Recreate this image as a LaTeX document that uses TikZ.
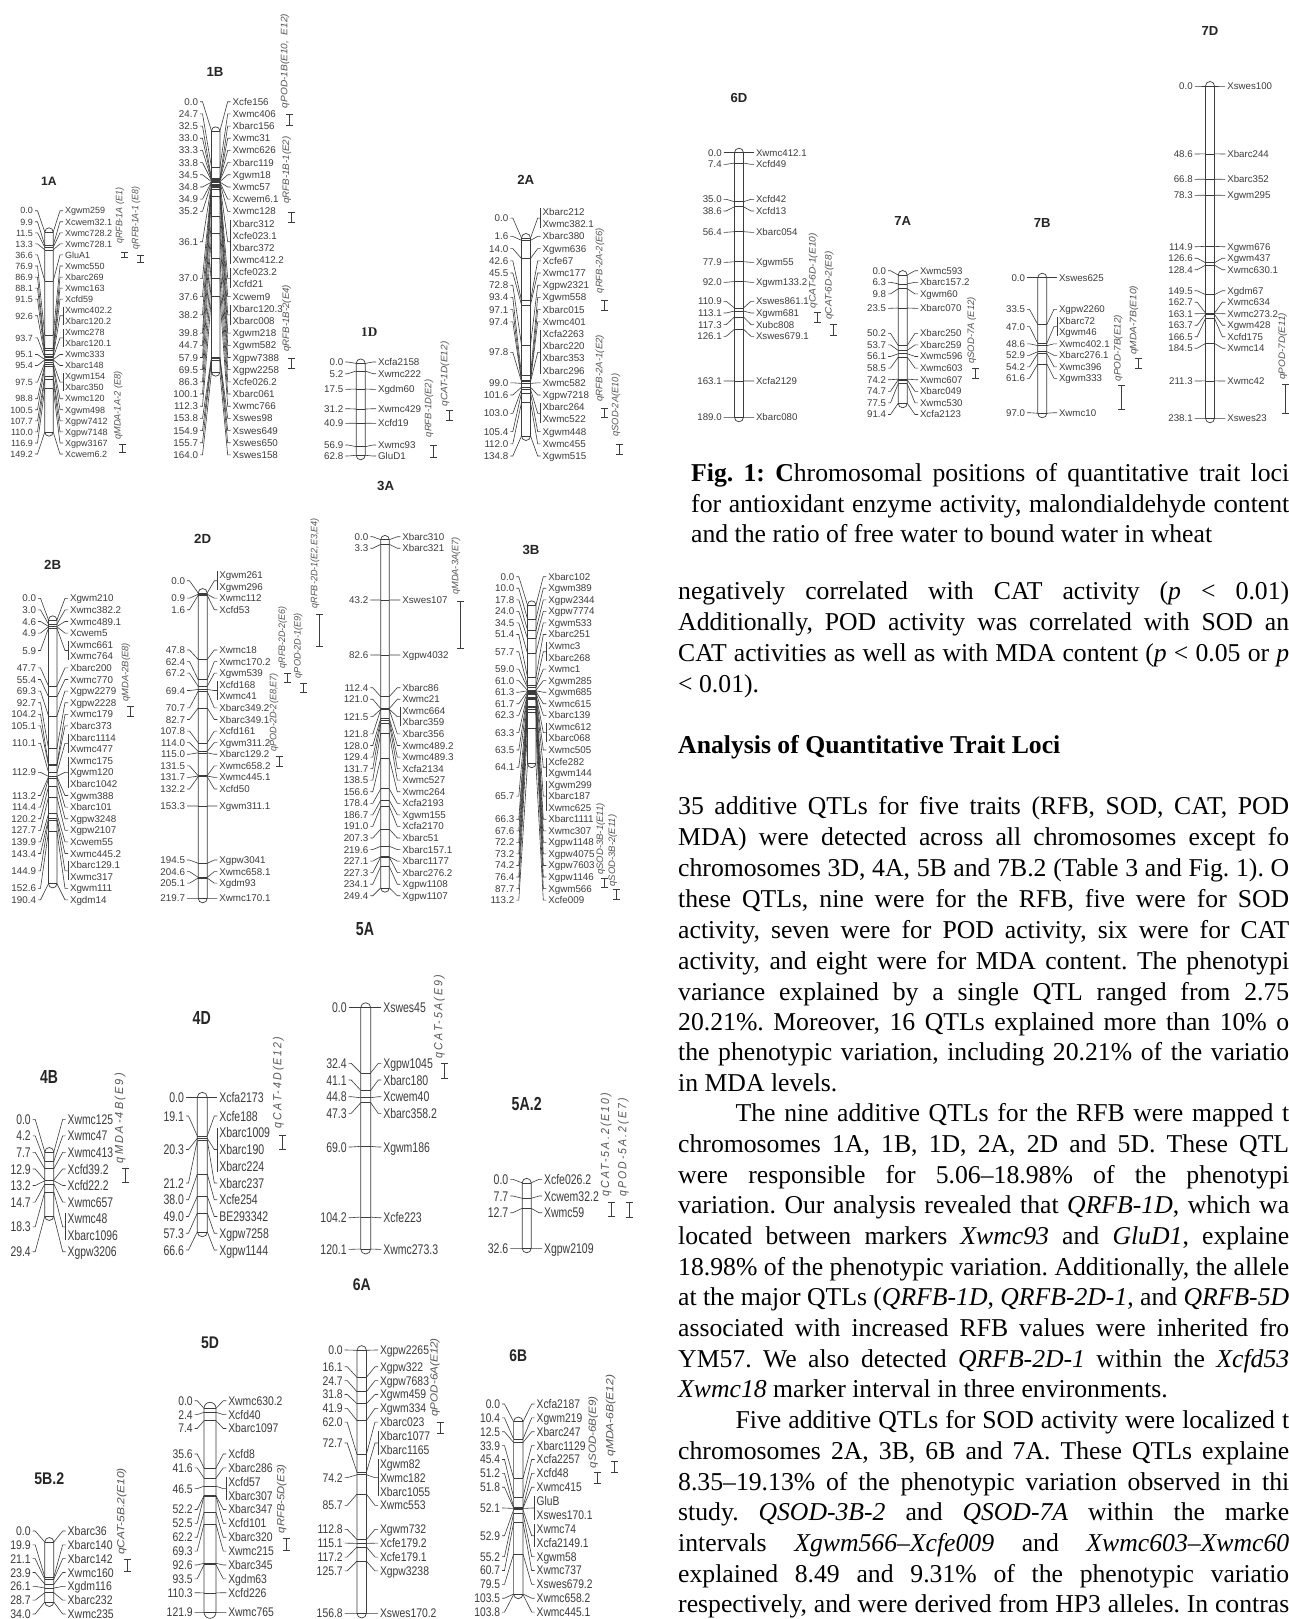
\documentclass[tikz,border=0pt]{standalone}
\usepackage{graphicx}
\usepackage{fontspec}
\setmainfont{Liberation Serif}
\newfontfamily\mapfont{Liberation Sans}
\newfontfamily\qtlwide[LetterSpace=20]{Liberation Sans}
\definecolor{mapgray}{HTML}{3C3C3C}
\definecolor{qtlgray}{HTML}{555555}

\newcount\markno
\newcount\rowcnt
\newcount\namecnt
\newcount\qtlno
\newcount\bodyno
\newcount\chrno

\tikzset{
    chrom-line/.style={draw=mapgray, line width=.7pt},
    band-line/.style={draw=mapgray, line width=.6pt},
    link-line/.style={draw=mapgray, line width=.6pt},
    map-label/.style={inner sep=0pt, outer xsep=2pt, text=mapgray},
    chrom-title/.style={inner sep=0pt, text=black!85},
    qtl-bar/.style={draw=mapgray, line width=.9pt, {Bar[width=7pt]}-{Bar[width=7pt]}},
    qtl-label/.style={inner sep=0pt, text=qtlgray, rotate=90, anchor=west},
    body-line/.style={inner sep=0pt, anchor=base west, font=\fontsize{25.7}{30}\selectfont\frenchspacing}
}

\newcommand{\maplab}[1]{\scalebox{\labXs}[1]{\mapfont\fontsize{\labFs}{\labFs}\selectfont\raisebox{0pt}[.72em][0pt]{#1}}}

% font size, x stretch, row step, left text edge, right text edge
\newcommand{\setlabels}[5]{%
    \def\labFs{#1}\def\labXs{#2}\def\labStep{#3}\def\labLx{#4}\def\labRx{#5}%
}

% title, title x, title y, centre x, half width, y at 0, y at end, length
\newcommand{\chrom}[8]{%
    \global\advance\chrno by 1
    \def\chrCx{#4}\def\chrHw{#5}\def\chrY{#6}%
    \pgfmathsetmacro{\chrS}{(#7-#6)/#8}%
    \pgfmathsetmacro{\titleFs}{1.35*\labFs}%
    \node[chrom-title] (title-\the\chrno) at (#2,#3)
        {\scalebox{\labXs}[1]{\mapfont\bfseries\fontsize{\titleFs}{\titleFs}\selectfont #1}};
    \draw[chrom-line, rounded corners=#5pt] (#4-#5,#6-#5) rectangle (#4+#5,#7+#5);
}

\newcommand{\markers}[2]{%
    \global\rowcnt=0
    \foreach \cm/\names in {#2}{%
        \global\advance\markno by 1
        \global\namecnt=0
        \foreach \nm in \names {\global\advance\namecnt by 1}
        \pgfmathsetmacro{\bandy}{\chrY+\cm*\chrS}
        \pgfmathsetmacro{\midy}{#1+\labStep*(\the\rowcnt+(\the\namecnt-1)/2)}
        \coordinate (m\the\markno-bl) at (\chrCx-\chrHw,\bandy);
        \coordinate (m\the\markno-br) at (\chrCx+\chrHw,\bandy);
        \coordinate (m\the\markno-join) at (\labRx-2,\midy);
        \draw[band-line] (m\the\markno-bl) -- (m\the\markno-br);
        \node[map-label, anchor=east] (m\the\markno-pos) at (\labLx+2,\midy) {\maplab{\cm}};
        \foreach \nm [count=\k] in \names {
            \pgfmathsetmacro{\rowy}{#1+\labStep*\the\rowcnt}
            \node[map-label, anchor=west] (m\the\markno-\k) at (\labRx-2,\rowy) {\maplab{\nm}};
            \global\advance\rowcnt by 1
        }
        \draw[link-line] (m\the\markno-pos.east) -- ++(2.5,0) -- (m\the\markno-bl);
        \draw[link-line] (m\the\markno-join) -- ++(-3,0) -- (m\the\markno-br);
        \ifnum\namecnt>1
            \draw[link-line] (m\the\markno-1.north west) -- (m\the\markno-\the\namecnt.south west);
        \fi
    }
}

% bar x, bar top, bar bottom, label x, label start y, label end y, text
\def\qtlfont{\mapfont}
\def\qtlH{6.8}
\newcommand{\qtl}[7]{%
    \global\advance\qtlno by 1
    \pgfmathsetmacro{\qtlL}{#5-#6}%
    \coordinate (q\the\qtlno-a) at (#1,#2);
    \coordinate (q\the\qtlno-b) at (#1,#3);
    \draw[qtl-bar] (q\the\qtlno-a) -- (q\the\qtlno-b);
    \node[qtl-label] (q\the\qtlno-lab) at (#4,#5)
        {\resizebox{\qtlL pt}{\qtlH pt}{\qtlfont\itshape #7}};
}

\newcommand{\jline}[4]{%
    \global\advance\bodyno by 1
    \node[body-line] (body-\the\bodyno) at (#1,#2) {\makebox[#3pt][s]{#4}};
}
\newcommand{\fline}[3]{%
    \global\advance\bodyno by 1
    \node[body-line] (body-\the\bodyno) at (#1,#2) {#3};
}

\usetikzlibrary{arrows.meta}

\begin{document}
\begin{tikzpicture}[x=1pt, y=-1pt]
    \path[fill=white, use as bounding box] (0,0) rectangle (1289,1619);

    \setlabels{9}{1}{11.06}{33}{65}
    \chrom{1A}{49}{181}{49}{4.2}{232}{432}{149.2}
    \markers{210.7}{0.0/Xgwm259, 9.9/Xcwem32.1, 11.5/Xwmc728.2, 13.3/Xwmc728.1, 36.6/GluA1, 76.9/Xwmc550, 86.9/Xbarc269, 88.1/Xwmc163, 91.5/Xcfd59, 92.6/{Xwmc402.2,Xbarc120.2}, 93.7/{Xwmc278,Xbarc120.1}, 95.1/Xwmc333, 95.4/Xbarc148, 97.5/{Xgwm154,Xbarc350}, 98.8/Xwmc120, 100.5/Xgwm498, 107.7/Xgpw7412, 110.0/Xgpw7148, 116.9/Xgpw3167, 149.2/Xcwem6.2}

    \setlabels{9.8}{1}{12.18}{198}{232.7}
    \chrom{1B}{215}{72}{215.7}{4.2}{131}{372}{164}
    \markers{101.7}{0.0/Xcfe156, 24.7/Xwmc406, 32.5/Xbarc156, 33.0/Xwmc31, 33.3/Xwmc626, 33.8/Xbarc119, 34.5/Xgwm18, 34.8/Xwmc57, 34.9/Xcwem6.1, 35.2/Xwmc128, 36.1/{Xbarc312,Xcfe023.1,Xbarc372,Xwmc412.2}, 37.0/{Xcfe023.2,Xcfd21}, 37.6/Xcwem9, 38.2/{Xbarc120.3,Xbarc008}, 39.8/Xgwm218, 44.7/Xgwm582, 57.9/Xgpw7388, 69.5/Xgpw2258, 86.3/Xcfe026.2, 100.1/Xbarc061, 112.3/Xwmc766, 153.8/Xswes98, 154.9/Xswes649, 155.7/Xswes650, 164.0/Xswes158}

    \setlabels{9.8}{1}{11.7}{343.3}{378}
    \chrom{{\rmfamily 1D}}{369.3}{331.7}{360.7}{4.5}{363.4}{455.3}{62.8}
    \markers{362}{0.0/Xcfa2158, 5.2/Xwmc222}
    \markers{389.3}{17.5/Xgdm60}
    \markers{408.7}{31.2/Xwmc429}
    \markers{423.3}{40.9/Xcfd19}
    \markers{445}{56.9/Xwmc93}
    \markers{456}{62.8/GluD1}

    \setlabels{9.8}{1}{12.2}{508.3}{542.7}
    \chrom{2A}{525.7}{180}{526}{4.5}{238}{436}{134.8}
    \markers{212}{0.0/{Xbarc212,Xwmc382.1}, 1.6/Xbarc380, 14.0/Xgwm636, 42.6/Xcfe67, 45.5/Xwmc177, 72.8/Xgpw2321, 93.4/Xgwm558, 97.1/Xbarc015, 97.4/Xwmc401, 97.8/{Xcfa2263,Xbarc220,Xbarc353,Xbarc296}, 99.0/Xwmc582, 101.6/Xgpw7218, 103.0/{Xbarc264,Xwmc522}, 105.4/Xgwm448, 112.0/Xwmc455, 134.8/Xgwm515}

    \setlabels{9.8}{1}{11.6}{36}{70}
    \chrom{2B}{52.7}{565}{52.7}{4.2}{620}{883.7}{190.4}
    \markers{598.3}{0.0/Xgwm210, 3.0/Xwmc382.2, 4.6/Xwmc489.1, 4.9/Xcwem5, 5.9/{Xwmc661,Xwmc764}, 47.7/Xbarc200, 55.4/Xwmc770, 69.3/Xgpw2279, 92.7/Xgpw2228, 104.2/Xwmc179, 105.1/Xbarc373, 110.1/{Xbarc1114,Xwmc477}, 112.9/{Xwmc175,Xgwm120,Xbarc1042}, 113.2/Xgwm388, 114.4/Xbarc101, 120.2/Xgpw3248, 127.7/Xgpw2107, 139.9/Xcwem55, 143.4/Xwmc445.2, 144.9/{Xbarc129.1,Xwmc317}, 152.6/Xgwm111, 190.4/Xgdm14}

    \setlabels{9.8}{1}{11.58}{185}{219.3}
    \chrom{2D}{202.7}{539}{202.7}{4.5}{593}{898.3}{219.7}
    \markers{575}{0.0/{Xgwm261,Xgwm296}, 0.9/Xwmc112, 1.6/Xcfd53}
    \markers{650}{47.8/Xwmc18, 62.4/Xwmc170.2, 67.2/Xgwm539, 69.4/{Xcfd168,Xwmc41}, 70.7/Xbarc349.2, 82.7/Xbarc349.1, 107.8/Xcfd161, 114.0/Xgwm311.2, 115.0/Xbarc129.2, 131.5/Xwmc658.2, 131.7/Xwmc445.1, 132.2/Xcfd50}
    \markers{806}{153.3/Xgwm311.1}
    \markers{860}{194.5/Xgpw3041, 204.6/Xwmc658.1, 205.1/Xgdm93}
    \markers{898.3}{219.7/Xwmc170.1}

    \setlabels{9.8}{1}{11.56}{368.3}{402.3}
    \chrom{3A}{385.7}{485.7}{385}{4.3}{539.7}{887.9}{249.4}
    \markers{536.7}{0.0/Xbarc310, 3.3/Xbarc321}
    \markers{600}{43.2/Xswes107}
    \markers{655}{82.6/Xgpw4032}
    \markers{687.7}{112.4/Xbarc86, 121.0/Xwmc21, 121.5/{Xwmc664,Xbarc359}, 121.8/Xbarc356, 128.0/Xwmc489.2, 129.4/Xwmc489.3, 131.7/Xcfa2134, 138.5/Xwmc527, 156.6/Xwmc264, 178.4/Xcfa2193, 186.7/Xgwm155, 191.0/Xcfa2170, 207.3/Xbarc51, 219.6/Xbarc157.1, 227.1/Xbarc1177, 227.3/Xbarc276.2, 234.1/Xgpw1108, 249.4/Xgpw1107}

    \setlabels{9.8}{1}{11.55}{514.3}{548.3}
    \chrom{3B}{531}{550}{531.7}{4.2}{605}{763.5}{113.2}
    \markers{576.7}{0.0/Xbarc102, 10.0/Xgwm389, 17.8/Xgpw2344, 24.0/Xgpw7774, 34.5/Xgwm533, 51.4/Xbarc251, 57.7/{Xwmc3,Xbarc268}, 59.0/Xwmc1, 61.0/Xgwm285, 61.3/Xgwm685, 61.7/Xwmc615, 62.3/Xbarc139, 63.3/{Xwmc612,Xbarc068}, 63.5/Xwmc505, 64.1/{Xcfe282,Xgwm144}, 65.7/{Xgwm299,Xbarc187,Xwmc625}, 66.3/Xbarc1111, 67.6/Xwmc307, 72.2/Xgpw1148, 73.2/Xgpw4075, 74.2/Xgpw7603, 76.4/Xgpw1146, 87.7/Xgwm566, 113.2/Xcfe009}

    \setlabels{14}{.74}{16.55}{30.7}{67.7}
    \chrom{4B}{49}{1076.7}{49.3}{4.5}{1152}{1216}{29.4}
    \markers{1119.3}{0.0/Xwmc125, 4.2/Xwmc47, 7.7/Xwmc413, 12.9/Xcfd39.2, 13.2/Xcfd22.2, 14.7/Xwmc657, 18.3/{Xwmc48,Xbarc1096}, 29.4/Xgpw3206}

    \setlabels{14}{.75}{16.75}{184}{219.3}
    \chrom{4D}{201.7}{1018.3}{202.3}{5}{1097.3}{1231.8}{66.6}
    \markers{1097.3}{0.0/Xcfa2173}
    \markers{1116}{19.1/Xcfe188, 20.3/{Xbarc1009,Xbarc190,Xbarc224}, 21.2/Xbarc237, 38.0/Xcfe254, 49.0/BE293342, 57.3/Xgpw7258, 66.6/Xgpw1144}

    \setlabels{14}{.75}{16.7}{346.7}{383.3}
    \chrom{5A}{365}{929.3}{365.7}{5}{1007.7}{1249}{120.1}
    \markers{1007.7}{0.0/Xswes45}
    \markers{1063.3}{32.4/Xgpw1045, 41.1/Xbarc180, 44.8/Xcwem40, 47.3/Xbarc358.2}
    \markers{1147}{69.0/Xgwm186}
    \markers{1217.7}{104.2/Xcfe223}
    \markers{1249.3}{120.1/Xwmc273.3}

    \setlabels{14}{.75}{16.7}{508.3}{544}
    \chrom{5A.2}{526.7}{1104.3}{526.7}{4.5}{1182.8}{1248.3}{32.6}
    \markers{1179.3}{0.0/Xcfe026.2, 7.7/Xcwem32.2, 12.7/Xwmc59}
    \markers{1248.3}{32.6/Xgpw2109}

    \setlabels{12.5}{.84}{13.83}{30.7}{67.7}
    \chrom{5B.2}{49.3}{1478.3}{49.3}{4.5}{1542}{1602}{34}
    \markers{1531}{0.0/Xbarc36, 19.9/Xbarc140, 21.1/Xbarc142, 23.9/Xwmc160, 26.1/Xgdm116, 28.7/Xbarc232, 34.0/Xwmc235}

    \setlabels{12.5}{.83}{13.87}{192.7}{228.3}
    \chrom{5D}{210}{1342.3}{210}{6}{1408.3}{1612.3}{121.9}
    \markers{1400.7}{0.0/Xwmc630.2, 2.4/Xcfd40, 7.4/Xbarc1097}
    \markers{1454}{35.6/Xcfd8, 41.6/Xbarc286, 46.5/{Xcfd57,Xbarc307}, 52.2/Xbarc347, 52.5/Xcfd101, 62.2/Xbarc320, 69.3/Xwmc215, 92.6/Xbarc345, 93.5/Xgdm63, 110.3/Xcfd226}
    \markers{1612.3}{121.9/Xwmc765}

    \setlabels{12.5}{.83}{13.87}{342.7}{380}
    \chrom{6A}{361.7}{1284.3}{361.7}{4.7}{1350.3}{1613.3}{156.8}
    \markers{1350}{0.0/Xgpw2265}
    \markers{1366.7}{16.1/Xgpw322, 24.7/Xgpw7683, 31.8/Xgwm459, 41.9/Xgwm334, 62.0/Xbarc023, 72.7/{Xbarc1077,Xbarc1165}, 74.2/{Xgwm82,Xwmc182,Xbarc1055}, 85.7/Xwmc553}
    \markers{1529.3}{112.8/Xgwm732, 115.1/Xcfe179.2, 117.2/Xcfe179.1, 125.7/Xgpw3238}
    \markers{1613.3}{156.8/Xswes170.2}

    \setlabels{12.5}{.82}{13.87}{500}{536.7}
    \chrom{6B}{518.3}{1356}{518.3}{4.7}{1421.7}{1594}{103.5}
    \markers{1404}{0.0/Xcfa2187, 10.4/Xgwm219, 12.5/Xbarc247, 33.9/Xbarc1129, 45.4/Xcfa2257, 51.2/Xcfd48, 51.8/Xwmc415, 52.1/{GluB,Xswes170.1}, 52.9/{Xwmc74,Xcfa2149.1}, 55.2/Xgwm58, 60.7/Xwmc737, 79.5/Xswes679.2, 103.5/Xwmc658.2, 103.8/Xwmc445.1}

    \setlabels{9.7}{1}{11.67}{721.7}{756}
    \chrom{6D}{739}{98.3}{739}{4.5}{152.7}{417.3}{189}
    \markers{152.7}{0.0/Xwmc412.1, 7.4/Xcfd49}
    \markers{199.3}{35.0/Xcfd42, 38.6/Xcfd13}
    \markers{232.3}{56.4/Xbarc054}
    \markers{262.3}{77.9/Xgwm55}
    \markers{282.3}{92.0/Xgwm133.2}
    \markers{301.3}{110.9/Xswes861.1, 113.1/Xgwm681, 117.3/Xubc808, 126.1/Xswes679.1}
    \markers{381}{163.1/Xcfa2129}
    \markers{417.3}{189.0/Xbarc080}

    \setlabels{9.7}{1}{11.6}{886}{920}
    \chrom{7A}{902.7}{220.7}{902.7}{4.5}{275}{403.3}{91.4}
    \markers{270.7}{0.0/Xwmc593, 6.3/Xbarc157.2, 9.8/Xgwm60}
    \markers{308.3}{23.5/Xbarc070}
    \markers{333.3}{50.2/Xbarc250, 53.7/Xbarc259, 56.1/Xwmc596, 58.5/Xwmc603, 74.2/Xwmc607, 74.7/Xbarc049, 77.5/Xwmc530, 91.4/Xcfa2123}

    \setlabels{9.7}{1}{11.5}{1025}{1059}
    \chrom{7B}{1042.3}{222.7}{1042.3}{4.5}{277.7}{413.3}{97}
    \markers{277.7}{0.0/Xswes625}
    \markers{309.3}{33.5/Xgpw2260, 47.0/{Xbarc72,Xgwm46}, 48.6/Xwmc402.1, 52.9/Xbarc276.1, 54.2/Xwmc396, 61.6/Xgwm333}
    \markers{412.7}{97.0/Xwmc10}

    \setlabels{9.7}{1}{11.5}{1192.7}{1227.3}
    \chrom{7D}{1210}{30.7}{1210}{4.5}{86}{418.3}{238.1}
    \markers{86}{0.0/Xswes100}
    \markers{154}{48.6/Xbarc244}
    \markers{179.3}{66.8/Xbarc352}
    \markers{195.3}{78.3/Xgwm295}
    \markers{246.7}{114.9/Xgwm676, 126.6/Xgwm437, 128.4/Xwmc630.1}
    \markers{290.7}{149.5/Xgdm67, 162.7/Xwmc634, 163.1/Xwmc273.2, 163.7/Xgwm428, 166.5/Xcfd175, 184.5/Xwmc14}
    \markers{381}{211.3/Xwmc42}
    \markers{418.3}{238.1/Xswes23}

    \qtl{124.3}{251.7}{258.3}{120}{244}{188}{qRFB-1A (E1)}
    \qtl{140.7}{255}{263.3}{136}{249.3}{186.7}{qRFB-1A-1 (E8)}
    \qtl{122.7}{444}{452.7}{118.3}{440}{371.7}{qMDA-1A-2 (E8)}
    \qtl{289.3}{114.3}{125.7}{285}{108.3}{14}{qPOD-1B(E10,\ \ E12)}
    \qtl{291.7}{212.3}{223.3}{286.7}{204}{136.7}{qRFB-1B-1(E2)}
    \qtl{291.7}{358.3}{369}{286.7}{351.7}{285}{qRFB-1B-2(E4)}
    \qtl{433.3}{445}{458.3}{429}{437.3}{380}{qRFB-1D(E2)}
    \qtl{449.3}{410}{420.7}{445}{406.7}{341.7}{qCAT-1D(E12)}
    \qtl{604.3}{300}{311}{600}{293.3}{228.3}{qRFB-2A-2(E6)}
    \qtl{604.3}{408.3}{418.3}{600}{401.7}{335}{qRFB-2A-1(E2)}
    \qtl{619}{444}{455}{616}{436.7}{374}{qSOD-2A(E10)}
    \qtl{130}{706}{716.7}{126}{701.7}{643.3}{qMDA-2B(E8)}
    \qtl{319.3}{614.3}{646.7}{315}{608.3}{518.3}{qRFB-2D-1(E2,E3,E4)}
    \qtl{287.7}{673.3}{683.3}{282.7}{668.3}{606.7}{qRFB-2D-2(E6)}
    \qtl{303.3}{682.7}{693.3}{298.3}{678.3}{613.3}{qPOD-2D-1(E9)}
    \qtl{279}{756}{766.7}{274}{751.7}{673.3}{qPOD-2D-2(E8,E7)}
    \qtl{460.7}{601}{649.3}{456}{595}{537.3}{qMDA-3A(E7)}
    \qtl{604}{878.3}{888.3}{600.7}{875}{803.3}{qSOD-3B-1(E11)}
    \qtl{616}{889.3}{900}{612.7}{886.7}{815}{qSOD-3B-2(E11)}

    \def\qtlfont{\qtlwide}
    \def\qtlH{8.5}
    \qtl{125.7}{1168.3}{1183.3}{120}{1163.3}{1073.3}{qMDA-4B(E9)}
    \qtl{282.3}{1135}{1150}{278.3}{1128.3}{1036.7}{qCAT-4D(E12)}
    \qtl{444.3}{1063.3}{1079.3}{439.3}{1058.3}{975}{qCAT-5A(E9)}
    \qtl{611.7}{1201.7}{1216.7}{606}{1196.7}{1092.7}{qCAT-5A.2(E10)}
    \qtl{629}{1201.7}{1217.7}{623.3}{1196.7}{1098.3}{qPOD-5A.2(E7)}

    \def\qtlfont{\mapfont}
    \def\qtlH{7.5}
    \qtl{127.3}{1559.3}{1571.7}{121.7}{1555}{1468.3}{qCAT-5B.2(E10)}
    \qtl{286}{1538.3}{1550.7}{281.7}{1533.3}{1465}{qRFB-5D(E3)}
    \qtl{440}{1421.7}{1434}{435}{1416.7}{1338.3}{qPOD-6A(E12)}
    \qtl{597.7}{1472.3}{1484.3}{593.3}{1468.3}{1396.7}{qSOD-6B(E9)}
    \qtl{614.3}{1461}{1473.3}{610.7}{1456.7}{1375}{qMDA-6B(E12)}

    \def\qtlH{6.8}
    \qtl{817.3}{312.3}{323.3}{813.3}{308.3}{233.3}{qCAT-6D-1(E10)}
    \qtl{833.3}{324.3}{335.7}{829.3}{320}{251.7}{qCAT-6D-2(E8)}
    \qtl{975}{368.3}{379.3}{971.7}{364}{297.3}{qSOD-7A (E12)}
    \qtl{1121.7}{385}{410}{1118.3}{381.7}{315}{qPOD-7B(E12)}
    \qtl{1138.3}{358.3}{369}{1134}{355}{286}{qMDA-7B(E10)}
    \qtl{1285.5}{384.3}{414.3}{1282.7}{380}{313.3}{qPOD-7D(E11)}

    \jline{691}{481.5}{598}{\textbf{Fig. 1: C}hromosomal positions of quantitative trait loci}
    \jline{691}{512}{598}{for antioxidant enzyme activity, malondialdehyde content}
    \fline{691}{542.5}{and the ratio of free water to bound water in wheat}

    \jline{678}{599}{611}{negatively correlated with CAT activity (\textit{p} < 0.01)}
    \jline{678}{630}{611}{Additionally, POD activity was correlated with SOD an}
    \jline{678}{661}{611}{CAT activities as well as with MDA content (\textit{p} < 0.05 or \textit{p}}
    \fline{678}{692}{< 0.01).}
    \fline{678}{753}{\textbf{Analysis of Quantitative Trait Loci}}

    \jline{678}{814.6}{611}{35 additive QTLs for five traits (RFB, SOD, CAT, POD}
    \jline{678}{845.5}{611}{MDA) were detected across all chromosomes except fo}
    \jline{678}{876}{611}{chromosomes 3D, 4A, 5B and 7B.2 (Table 3 and Fig. 1). O}
    \jline{678}{907}{611}{these QTLs, nine were for the RFB, five were for SOD}
    \jline{678}{938}{611}{activity, seven were for POD activity, six were for CAT}
    \jline{678}{969}{611}{activity, and eight were for MDA content. The phenotypi}
    \jline{678}{1000}{611}{variance explained by a single QTL ranged from 2.75}
    \jline{678}{1030}{611}{20.21\%. Moreover, 16 QTLs explained more than 10\% o}
    \jline{678}{1060}{611}{the phenotypic variation, including 20.21\% of the variatio}
    \fline{678}{1091}{in MDA levels.}

    \jline{735.4}{1121}{553.6}{The nine additive QTLs for the RFB were mapped t}
    \jline{678}{1152}{611}{chromosomes 1A, 1B, 1D, 2A, 2D and 5D. These QTL}
    \jline{678}{1183}{611}{were responsible for 5.06–18.98\% of the phenotypi}
    \jline{678}{1213}{611}{variation. Our analysis revealed that \textit{QRFB-1D}, which wa}
    \jline{678}{1244}{611}{located between markers \textit{Xwmc93} and \textit{GluD1}, explaine}
    \jline{678}{1275}{611}{18.98\% of the phenotypic variation. Additionally, the allele}
    \jline{678}{1305}{611}{at the major QTLs (\textit{QRFB-1D}, \textit{QRFB-2D-1}, and \textit{QRFB-5D}}
    \jline{678}{1336}{611}{associated with increased RFB values were inherited fro}
    \jline{678}{1367}{611}{YM57. We also detected \textit{QRFB-2D-1} within the \textit{Xcfd53}}
    \fline{678}{1397}{\textit{Xwmc18} marker interval in three environments.}

    \jline{735.4}{1428}{553.6}{Five additive QTLs for SOD activity were localized t}
    \jline{678}{1459}{611}{chromosomes 2A, 3B, 6B and 7A. These QTLs explaine}
    \jline{678}{1490}{611}{8.35–19.13\% of the phenotypic variation observed in thi}
    \jline{678}{1520}{611}{study. \textit{QSOD-3B-2} and \textit{QSOD-7A} within the marke}
    \jline{678}{1551}{611}{intervals \textit{Xgwm566–Xcfe009} and \textit{Xwmc603–Xwmc60}}
    \jline{678}{1582}{611}{explained 8.49 and 9.31\% of the phenotypic variatio}
    \jline{678}{1612}{611}{respectively, and were derived from HP3 alleles. In contras}
\end{tikzpicture}
\end{document}
